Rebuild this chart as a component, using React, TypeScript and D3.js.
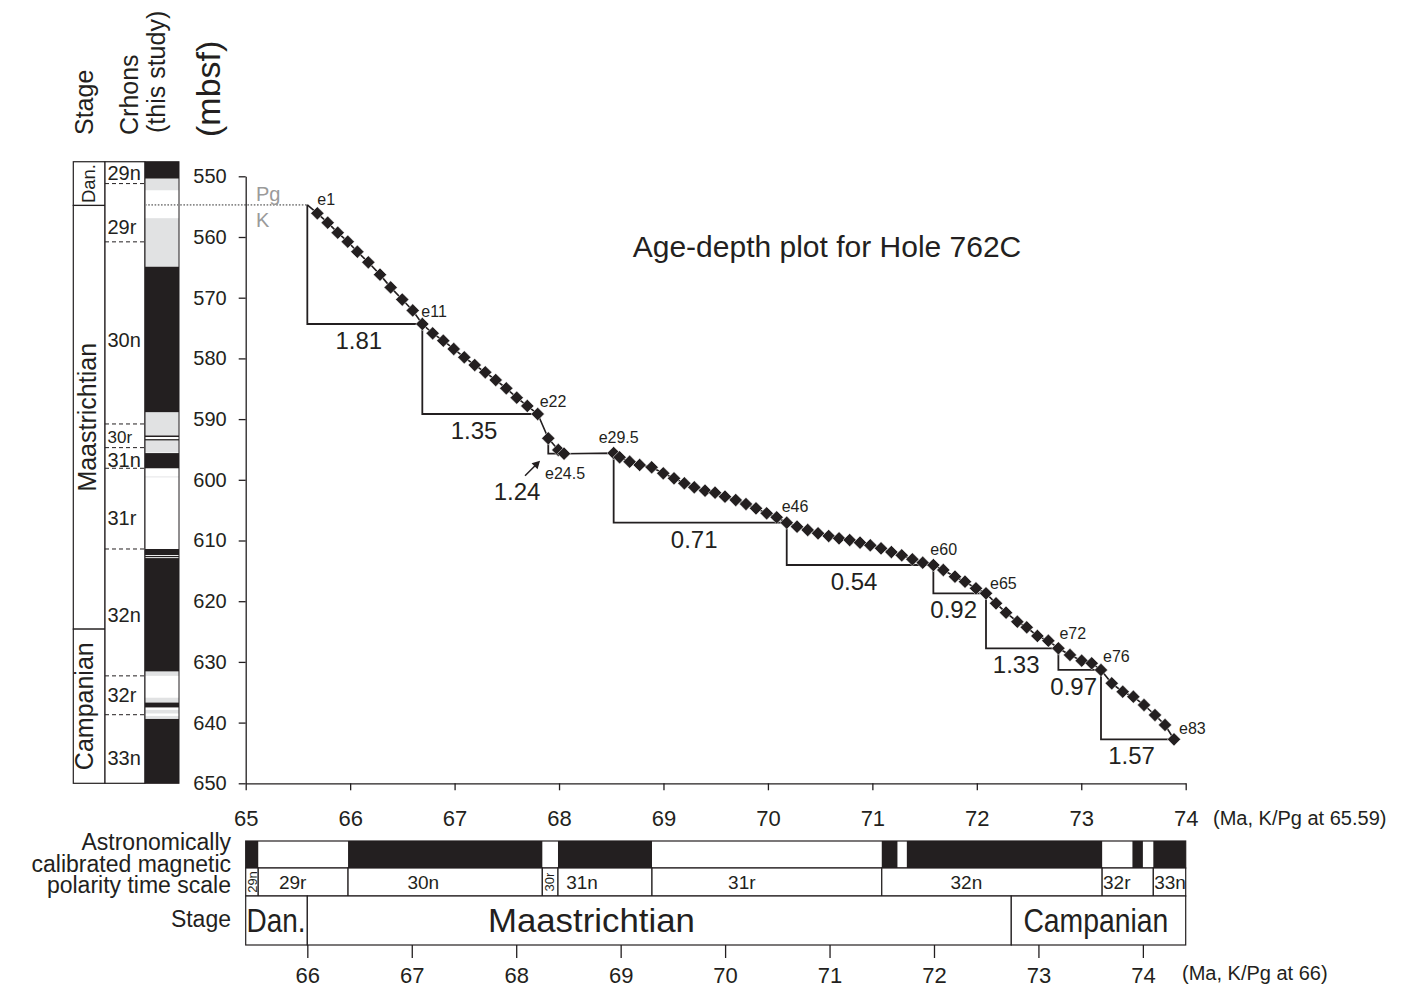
import React, { useRef, useEffect } from 'react';
import * as d3 from 'd3';

// tie points: [name, age (Ma, K/Pg at 65.59), depth (mbsf)]
const tiePoints: [string, number, number][] = [
  ['e1', 65.686, 556.1], ['e2', 65.785, 557.64], ['e3', 65.881, 559.29], ['e4', 65.977, 560.77],
  ['e5', 66.069, 562.42], ['e6', 66.174, 564.17], ['e7', 66.286, 566.2], ['e8', 66.388, 568.3],
  ['e9', 66.499, 570.3], ['e10', 66.599, 572.1], ['e11', 66.691, 574.33],
  ['e12', 66.79, 575.87], ['e13', 66.892, 577.08], ['e14', 66.992, 578.45], ['e15', 67.093, 579.82],
  ['e16', 67.193, 581.09], ['e17', 67.294, 582.29], ['e18', 67.394, 583.56], ['e19', 67.495, 584.93],
  ['e20', 67.595, 586.47], ['e21', 67.696, 587.84], ['e22', 67.796, 589.16],
  ['e23', 67.897, 593.16], ['e24', 67.993, 595.09], ['e24.5', 68.048, 595.7],
  ['e29.5', 68.523, 595.6], ['e30', 68.58, 596.29], ['e31', 68.676, 597.02], ['e32', 68.772, 597.56],
  ['e33', 68.887, 597.94], ['e34', 68.998, 598.93], ['e35', 69.101, 599.75], ['e36', 69.2, 600.58],
  ['e37', 69.295, 601.24], ['e38', 69.398, 601.8], ['e39', 69.494, 602.13], ['e40', 69.589, 602.78],
  ['e41', 69.692, 603.33], ['e42', 69.79, 603.99], ['e43', 69.886, 604.7], ['e44', 69.988, 605.52],
  ['e45', 70.084, 606.18], ['e46', 70.18, 607.07],
  ['e47', 70.279, 607.73], ['e48', 70.381, 608.27], ['e49', 70.48, 608.81], ['e50', 70.582, 609.26],
  ['e51', 70.681, 609.64], ['e52', 70.783, 609.92], ['e53', 70.882, 610.36], ['e54', 70.98, 610.79],
  ['e55', 71.083, 611.29], ['e56', 71.182, 611.9], ['e57', 71.281, 612.44], ['e58', 71.383, 613.1],
  ['e59', 71.482, 613.66], ['e60', 71.584, 614.04],
  ['e61', 71.679, 614.86], ['e62', 71.791, 615.96], ['e63', 71.887, 616.79], ['e64', 71.992, 617.88],
  ['e65', 72.088, 618.7],
  ['e66', 72.184, 620.35], ['e67', 72.28, 621.89], ['e68', 72.388, 623.38], ['e69', 72.478, 624.3],
  ['e70', 72.58, 625.73], ['e71', 72.685, 626.51], ['e72', 72.781, 627.76],
  ['e73', 72.892, 628.86], ['e74', 73.004, 629.8], ['e75', 73.1, 630.23], ['e76', 73.189, 631.33],
  ['e77', 73.292, 633.53], ['e78', 73.397, 634.91], ['e79', 73.499, 635.73], ['e80', 73.601, 637.1],
  ['e81', 73.706, 638.75], ['e82', 73.802, 640.39], ['e83', 73.888, 642.75],
];

// K/Pg boundary in the hole
const kpgAge = 65.59;
const kpgDepth = 554.7;

// sedimentation rates (cm/kyr): [from, to, rate]
const rateSegments: [string, string, string][] = [
  ['KPg', 'e11', '1.81'],
  ['e11', 'e22', '1.35'],
  ['e23', 'e24.5', '1.24'],
  ['e29.5', 'e46', '0.71'],
  ['e46', 'e60', '0.54'],
  ['e60', 'e65', '0.92'],
  ['e65', 'e72', '1.33'],
  ['e72', 'e76', '0.97'],
  ['e76', 'e83', '1.57'],
];

const labelledPoints = ['e1', 'e11', 'e22', 'e24.5', 'e29.5', 'e46', 'e60', 'e65', 'e72', 'e76', 'e83'];

// stage column of the hole: [name, top, bottom] (mbsf)
const stageColumn: [string, number, number][] = [
  ['Dan.', 547.6, 554.8],
  ['Maastrichtian', 554.8, 624.6],
  ['Campanian', 624.6, 650],
];

// chron boundaries (dashed) and chron label depths
const chronBoundaries = [551.2, 560.8, 590.8, 594.7, 598.1, 611.4, 632.3, 638.7];
const chronLabels: [string, number][] = [
  ['29n', 549.4], ['29r', 558.3], ['30n', 577.0], ['30r', 593.0], ['31n', 596.7],
  ['31r', 606.3], ['32n', 622.3], ['32r', 635.5], ['33n', 645.8],
];

// polarity log: [top, bottom, tone]  n = normal, u = uncertain (reversed elsewhere)
const polarityLog: [number, number, string][] = [
  [547.6, 550.4, 'n'], [550.4, 552.3, 'u'], [556.9, 564.9, 'u'], [564.9, 588.9, 'n'],
  [588.9, 592.7, 'u'], [592.7, 592.95, 'n'], [593.3, 593.55, 'n'], [593.55, 595.5, 'u'],
  [595.6, 598.1, 'n'], [599.45, 599.6, 'u'], [611.4, 612.4, 'n'], [612.55, 612.75, 'n'],
  [612.9, 631.6, 'n'], [631.6, 632.3, 'u'], [635.9, 636.7, 'u'], [636.7, 637.5, 'n'],
  [637.9, 638.5, 'u'], [638.9, 639.4, 'u'], [639.4, 650, 'n'],
];

// astronomically calibrated GPTS (Ma, K/Pg at 66)
const gptsNormal: [number, number][] = [
  [65.41, 65.53], [66.39, 68.25], [68.4, 69.3], [71.5, 71.65], [71.74, 73.61], [73.9, 74.0], [74.1, 74.41],
];
// [chron, start, end, label age]
const gptsChrons: [string, number, number, number][] = [
  ['29n', 65.41, 65.53, 65.47], ['29r', 65.53, 66.39, 65.86], ['30n', 66.39, 68.25, 67.11],
  ['30r', 68.25, 68.4, 68.32], ['31n', 68.4, 69.3, 68.63], ['31r', 69.3, 71.5, 70.16],
  ['32n', 71.5, 73.61, 72.31], ['32r', 73.61, 74.1, 73.75], ['33n', 74.1, 74.41, 74.26],
];
const gptsStages: [string, number, number, number][] = [
  ['Dan.', 65.41, 66.0, 65.7], ['Maastrichtian', 66.0, 72.74, 68.72], ['Campanian', 72.74, 74.41, 73.55],
];

const depthTicks = d3.range(550, 651, 10);
const ageTicks = d3.range(65, 75);
const ageTicks66 = d3.range(66, 75);

const ink = '#231f20';
const font = '"Liberation Sans", Arial, Helvetica, sans-serif';

const AgeDepthChart = () => {
  const svgRef = useRef<SVGSVGElement>(null);

  useEffect(() => {
    const svg = d3.select(svgRef.current);
    svg.selectAll('*').remove();

    const x = d3.scaleLinear().domain([65, 74]).range([245.7, 1185.7]);
    const xB = d3.scaleLinear().domain([65.41, 74.41]).range([245.7, 1185.7]);
    const y = d3.scaleLinear().domain([550, 650]).range([176.3, 783.3]);

    const styleAxis = (g, size) => {
      g.attr('font-family', font).attr('font-size', size).attr('color', ink);
      g.selectAll('line, path').attr('stroke-width', 1.3);
    };

    // ---- header labels (rotated) ----
    const header: [string, number, number, number][] = [
      ['Stage', 93, 135, 25], ['Crhons', 138, 135, 25], ['(this study)', 165, 133, 25], ['(mbsf)', 220, 137, 34],
    ];
    svg.append('g').selectAll('text').data(header).enter().append('text')
      .attr('transform', d => `translate(${d[1]},${d[2]}) rotate(-90)`)
      .attr('font-size', d => d[3])
      .attr('fill', ink)
      .text(d => d[0]);

    // ---- left columns ----
    const colTop = y(547.6), colBot = y(650);
    const stageX0 = 73.3, stageX1 = 105, chronX1 = 145, polX1 = 179;

    const stageG = svg.append('g');
    stageG.selectAll('rect').data(stageColumn).enter().append('rect')
      .attr('x', stageX0).attr('width', stageX1 - stageX0)
      .attr('y', d => y(d[1])).attr('height', d => y(d[2]) - y(d[1]))
      .attr('fill', 'white').attr('stroke', ink).attr('stroke-width', 1.2);
    stageG.selectAll('text').data(stageColumn).enter().append('text')
      .attr('transform', d => `translate(${d[0] === 'Dan.' ? 95 : d[0] === 'Campanian' ? 93 : 96},${y((d[1] + d[2]) / 2)}) rotate(-90)`)
      .attr('text-anchor', 'middle')
      .attr('font-size', d => (d[0] === 'Dan.' ? 18.5 : 25))
      .attr('fill', ink)
      .text(d => d[0]);

    const chronG = svg.append('g');
    chronG.append('rect')
      .attr('x', stageX1).attr('y', colTop).attr('width', chronX1 - stageX1).attr('height', colBot - colTop)
      .attr('fill', 'white').attr('stroke', ink).attr('stroke-width', 1.2);
    chronG.selectAll('line').data(chronBoundaries).enter().append('line')
      .attr('x1', stageX1).attr('x2', chronX1)
      .attr('y1', d => y(d)).attr('y2', d => y(d))
      .attr('stroke', ink).attr('stroke-width', 1).attr('stroke-dasharray', '4,3');
    chronG.selectAll('text').data(chronLabels).enter().append('text')
      .attr('x', 107.5).attr('y', d => y(d[1]))
      .attr('dy', '0.35em')
      .attr('font-size', d => (d[0] === '30r' ? 17 : 20))
      .attr('fill', ink)
      .text(d => d[0]);

    const polG = svg.append('g');
    polG.append('rect')
      .attr('x', chronX1).attr('y', colTop).attr('width', polX1 - chronX1).attr('height', colBot - colTop)
      .attr('fill', 'white');
    polG.selectAll('rect.band').data(polarityLog).enter().append('rect')
      .attr('class', 'band')
      .attr('x', chronX1).attr('width', polX1 - chronX1)
      .attr('y', d => y(d[0])).attr('height', d => Math.max(0.6, y(d[1]) - y(d[0])))
      .attr('fill', d => (d[2] === 'n' ? ink : '#e1e2e3'));
    polG.append('rect')
      .attr('x', chronX1).attr('y', colTop).attr('width', polX1 - chronX1).attr('height', colBot - colTop)
      .attr('fill', 'none').attr('stroke', ink).attr('stroke-width', 1);

    // ---- K/Pg boundary ----
    svg.append('line')
      .attr('x1', chronX1).attr('x2', x(kpgAge))
      .attr('y1', y(kpgDepth)).attr('y2', y(kpgDepth))
      .attr('stroke', '#8a8a8a').attr('stroke-width', 1.6).attr('stroke-dasharray', '1.6,1.6');
    svg.append('text').attr('x', 256).attr('y', 201).attr('font-size', 20).attr('fill', '#9a9a9a').text('Pg');
    svg.append('text').attr('x', 256).attr('y', 227).attr('font-size', 20).attr('fill', '#9a9a9a').text('K');

    // ---- axes ----
    const yAxis = svg.append('g')
      .attr('transform', `translate(${x(65)},0)`)
      .call(d3.axisLeft(y).tickValues(depthTicks).tickSize(7).tickSizeOuter(0).tickPadding(12).tickFormat(d3.format('d')));
    styleAxis(yAxis, 20);

    const xAxis = svg.append('g')
      .attr('transform', `translate(0,${y(650)})`)
      .call(d3.axisBottom(x).tickValues(ageTicks).tickSize(7).tickSizeOuter(0).tickPadding(20).tickFormat(d3.format('d')));
    styleAxis(xAxis, 22);
    svg.append('text').attr('x', 1213).attr('y', 825).attr('font-size', 20).attr('fill', ink)
      .text('(Ma, K/Pg at 65.59)');

    // title
    svg.append('text').attr('x', 827).attr('y', 257).attr('text-anchor', 'middle')
      .attr('font-size', 30).attr('fill', ink).text('Age-depth plot for Hole 762C');

    // ---- age-depth data ----
    const pos = new Map<string, [number, number]>();
    pos.set('KPg', [x(kpgAge), y(kpgDepth)]);
    tiePoints.forEach(d => pos.set(d[0], [x(d[1]), y(d[2])]));

    // rate triangles
    const rateG = svg.append('g');
    rateSegments.forEach(([from, to, rate]) => {
      const [x1, y1] = pos.get(from);
      const [x2, y2] = pos.get(to);
      rateG.append('path')
        .attr('d', `M${x1},${y1}V${y2}H${x2}`)
        .attr('fill', 'none').attr('stroke', ink).attr('stroke-width', 1.8);
      if (rate === '1.24') {
        rateG.append('text').attr('x', x2 - 47).attr('y', y2 + 46).attr('text-anchor', 'middle')
          .attr('font-size', 24).attr('fill', ink).text(rate);
        const ax0 = x2 - 39, ay0 = y2 + 22, ax1 = x2 - 24, ay1 = y2 + 7;
        rateG.append('line').attr('x1', ax0).attr('y1', ay0).attr('x2', ax1 - 3).attr('y2', ay1 + 3)
          .attr('stroke', ink).attr('stroke-width', 1.5);
        rateG.append('path')
          .attr('d', `M${ax1},${ay1}L${ax1 - 8.5},${ay1 + 2.5}L${ax1 - 2.5},${ay1 + 8.5}Z`)
          .attr('fill', ink);
      } else {
        rateG.append('text').attr('x', (x1 + x2) / 2 - 6).attr('y', y2 + 25).attr('text-anchor', 'middle')
          .attr('font-size', 24).attr('fill', ink).text(rate);
      }
    });

    // line and diamonds
    const line = d3.line<[number, number]>().x(d => d[0]).y(d => d[1]);
    const linePts: [number, number][] = [pos.get('KPg'), ...tiePoints.map(d => pos.get(d[0]))];
    svg.append('path').datum(linePts)
      .attr('d', line).attr('fill', 'none').attr('stroke', ink).attr('stroke-width', 1.6);

    svg.append('g').selectAll('path').data(tiePoints).enter().append('path')
      .attr('d', d3.symbol(d3.symbolSquare, 88)())
      .attr('transform', d => `translate(${x(d[1])},${y(d[2])}) rotate(45)`)
      .attr('fill', ink).attr('stroke', 'white').attr('stroke-width', 0.5);

    const labelOffset: Record<string, [number, number]> = {
      e1: [0, -8], e11: [-1, -7], e22: [2, -7], 'e24.5': [-19, 25], 'e29.5': [-15, -10], e46: [-5, -11],
      e60: [-3, -10], e65: [4, -4], e72: [1, -9], e76: [2, -8], e83: [5, -5],
    };
    svg.append('g').selectAll('text').data(labelledPoints).enter().append('text')
      .attr('x', d => pos.get(d)[0] + labelOffset[d][0])
      .attr('y', d => pos.get(d)[1] + labelOffset[d][1])
      .attr('font-size', 16).attr('fill', ink)
      .text(d => d);

    // ---- GPTS panel ----
    const barTop = 841, barBot = 868, chronBot = 896, stageBot = 945;
    const gp = svg.append('g');
    gp.append('rect').attr('x', xB(65.41)).attr('y', barTop).attr('width', xB(74.41) - xB(65.41))
      .attr('height', barBot - barTop).attr('fill', 'white');
    gp.selectAll('rect.n').data(gptsNormal).enter().append('rect')
      .attr('class', 'n')
      .attr('x', d => xB(d[0])).attr('width', d => xB(d[1]) - xB(d[0]))
      .attr('y', barTop).attr('height', barBot - barTop).attr('fill', ink);
    gp.append('rect').attr('x', xB(65.41)).attr('y', barTop).attr('width', xB(74.41) - xB(65.41))
      .attr('height', barBot - barTop).attr('fill', 'none').attr('stroke', ink).attr('stroke-width', 1.2);

    gp.selectAll('rect.c').data(gptsChrons).enter().append('rect')
      .attr('class', 'c')
      .attr('x', d => xB(d[1])).attr('width', d => xB(d[2]) - xB(d[1]))
      .attr('y', barBot).attr('height', chronBot - barBot)
      .attr('fill', 'white').attr('stroke', ink).attr('stroke-width', 1.2);
    gp.selectAll('text.c').data(gptsChrons).enter().append('text')
      .attr('class', 'c')
      .attr('transform', d => {
        const narrow = xB(d[2]) - xB(d[1]) < 20;
        return `translate(${xB(d[3])},${(barBot + chronBot) / 2})` + (narrow ? ' rotate(-90)' : '');
      })
      .attr('text-anchor', 'middle')
      .attr('dy', '0.36em')
      .attr('font-size', d => (xB(d[2]) - xB(d[1]) < 20 ? 13 : 19))
      .attr('fill', ink)
      .text(d => d[0]);

    const stageLen: Record<string, number> = { 'Dan.': 59, Maastrichtian: 207, Campanian: 145 };
    gp.selectAll('rect.s').data(gptsStages).enter().append('rect')
      .attr('class', 's')
      .attr('x', d => xB(d[1])).attr('width', d => xB(d[2]) - xB(d[1]))
      .attr('y', chronBot).attr('height', stageBot - chronBot)
      .attr('fill', 'white').attr('stroke', ink).attr('stroke-width', 1.2);
    gp.selectAll('text.s').data(gptsStages).enter().append('text')
      .attr('class', 's')
      .attr('x', d => xB(d[3]) - stageLen[d[0]] / 2)
      .attr('y', 932)
      .attr('font-size', 33)
      .attr('textLength', d => stageLen[d[0]])
      .attr('lengthAdjust', 'spacingAndGlyphs')
      .attr('fill', ink)
      .text(d => d[0]);

    const bAxis = svg.append('g')
      .attr('transform', `translate(0,${stageBot})`)
      .call(d3.axisBottom(xB).tickValues(ageTicks66).tickSize(13).tickPadding(9).tickFormat(d3.format('d')));
    bAxis.select('.domain').remove();
    styleAxis(bAxis, 22);
    svg.append('text').attr('x', 1182).attr('y', 980).attr('font-size', 20).attr('fill', ink)
      .text('(Ma, K/Pg at 66)');

    // panel row titles
    const rowTitles: [string, number][] = [
      ['Astronomically', 850], ['calibrated magnetic', 872], ['polarity time scale', 893], ['Stage', 927],
    ];
    svg.append('g').selectAll('text').data(rowTitles).enter().append('text')
      .attr('x', 231).attr('y', d => d[1]).attr('text-anchor', 'end')
      .attr('font-size', 23).attr('fill', ink)
      .text(d => d[0]);
  }, []);

  return (
    <svg ref={svgRef} width={1410} height={989} fontFamily={font}
      style={{ position: 'absolute', left: 0, top: 0, background: 'white' }} />
  );
};

export default function App() {
  return <AgeDepthChart />;
}
